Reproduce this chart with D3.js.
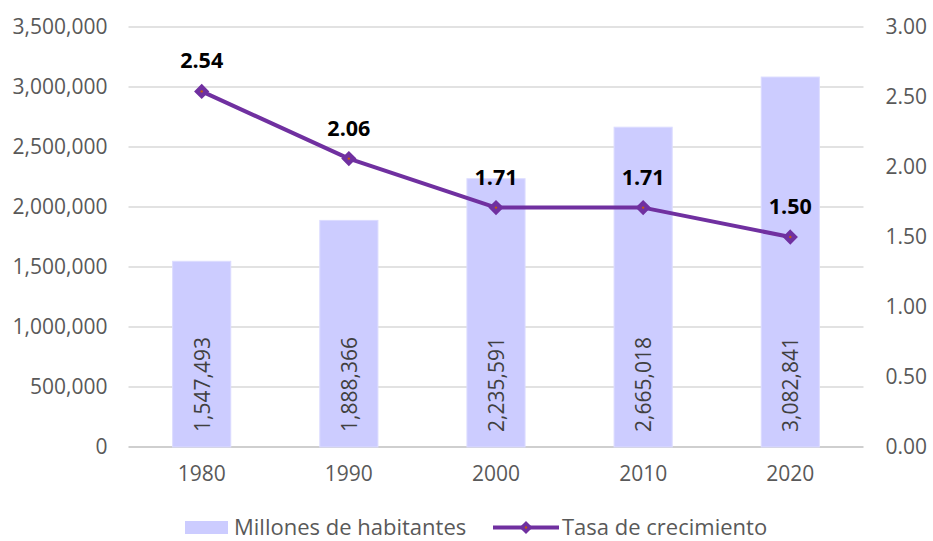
<!DOCTYPE html>
<html><head><meta charset="utf-8">
<script src="https://cdn.jsdelivr.net/npm/d3@7"></script>
<style>body{margin:0;background:#fff}svg{display:block}</style>
</head><body>
<svg id="c" width="933" height="541"></svg>
<script>
const years = ["1980","1990","2000","2010","2020"];
const population = [1547493, 1888366, 2235591, 2665018, 3082841];
const growthRate = [2.54, 2.06, 1.71, 1.71, 1.50];
const leftTicks = [0,500000,1000000,1500000,2000000,2500000,3000000,3500000];
const rightTicks = [0,0.5,1,1.5,2,2.5,3];
const seriesNames = ["Millones de habitantes","Tasa de crecimiento"];

const W=933,H=541;
const m={l:128.5,r:933-863.5,t:27,b:541-447};
const svg=d3.select("#c");
const FONT="'Open Sans', 'Liberation Sans', sans-serif";
const FS=21;
const x=d3.scaleBand().domain(years).range([m.l,W-m.r]).paddingInner(0.605).paddingOuter(0.3);
const yL=d3.scaleLinear().domain([0,3500000]).range([H-m.b,m.t]);
const yR=d3.scaleLinear().domain([0,3]).range([H-m.b,m.t]);
const fmt=d3.format(",");

// grid
svg.append("g").selectAll("line").data(leftTicks).join("line")
 .attr("x1",m.l).attr("x2",W-m.r).attr("y1",d=>yL(d)).attr("y2",d=>yL(d))
 .attr("stroke",d=>d===0?"#bfbfbf":"#d9d9d9").attr("stroke-width",1.3);

// left axis
const la=svg.append("g").attr("transform",`translate(${m.l},0)`)
 .call(d3.axisLeft(yL).tickValues(leftTicks).tickFormat(fmt).tickSize(0).tickPadding(21));
la.select(".domain").remove();
la.selectAll("text").attr("font-family",FONT).attr("font-size",FS).attr("fill","#595959");

// right axis
const ra=svg.append("g").attr("transform",`translate(${W-m.r},0)`)
 .call(d3.axisRight(yR).tickValues(rightTicks).tickFormat(d3.format(".2f")).tickSize(0).tickPadding(22));
ra.select(".domain").remove();
ra.selectAll("text").attr("font-family",FONT).attr("font-size",FS).attr("fill","#595959");

// bottom axis
const ba=svg.append("g").attr("transform",`translate(0,${H-m.b})`)
 .call(d3.axisBottom(x).tickSize(0).tickPadding(19));
ba.select(".domain").remove();
ba.selectAll("text").attr("font-family",FONT).attr("font-size",FS).attr("fill","#595959");

// bars
svg.append("g").selectAll("rect").data(population).join("rect")
 .attr("x",(d,i)=>x(years[i])).attr("width",x.bandwidth())
 .attr("y",d=>yL(d)).attr("height",d=>yL(0)-yL(d))
 .attr("fill","#ccccff").attr("stroke","#dcdcff").attr("stroke-width",1);

// bar labels
svg.append("g").selectAll("text").data(population).join("text")
 .attr("transform",(d,i)=>`translate(${x(years[i])+x.bandwidth()/2+8},${yL(0)-15}) rotate(-90)`)
 .attr("font-family",FONT).attr("font-size",FS).attr("fill","#404040")
 .text(d=>fmt(d));

// line
const cx=(i)=>x(years[i])+x.bandwidth()/2;
const line=d3.line().x((d,i)=>cx(i)).y(d=>yR(d));
svg.append("path").datum(growthRate).attr("d",line).attr("fill","none")
 .attr("stroke","#7030a0").attr("stroke-width",4).attr("stroke-linejoin","round");
svg.append("g").selectAll("path").data(growthRate).join("path")
 .attr("d",d3.symbol(d3.symbolDiamond2,110)())
 .attr("transform",(d,i)=>`translate(${cx(i)},${yR(d)})`)
 .attr("fill","#7030a0").attr("stroke","#7030a0").attr("stroke-width",1.5);
svg.append("g").selectAll("circle").data(growthRate).join("circle")
 .attr("cx",(d,i)=>cx(i)).attr("cy",d=>yR(d)).attr("r",1.2).attr("fill","#c55a11");

// line labels
svg.append("g").selectAll("text").data(growthRate).join("text")
 .attr("x",(d,i)=>cx(i)).attr("y",d=>yR(d)-23)
 .attr("text-anchor","middle").attr("font-family",FONT).attr("font-weight","bold")
 .attr("font-size",21.5).attr("fill","#000").text(d=>d.toFixed(2));

// legend
const lg=svg.append("g").attr("font-family",FONT).attr("font-size",22).attr("fill","#595959");
lg.append("rect").attr("x",185).attr("y",521).attr("width",43).attr("height",13).attr("fill","#ccccff");
lg.append("text").attr("x",234).attr("y",535).text(seriesNames[0]);
lg.append("line").attr("x1",493).attr("x2",559).attr("y1",527.5).attr("y2",527.5).attr("stroke","#7030a0").attr("stroke-width",4);
lg.append("path").attr("d",d3.symbol(d3.symbolDiamond2,110)()).attr("transform","translate(526,527.5)").attr("fill","#7030a0");
lg.append("circle").attr("cx",526).attr("cy",527.5).attr("r",1.2).attr("fill","#c55a11");
lg.append("text").attr("x",562).attr("y",535).text(seriesNames[1]);
</script>
</body></html>
